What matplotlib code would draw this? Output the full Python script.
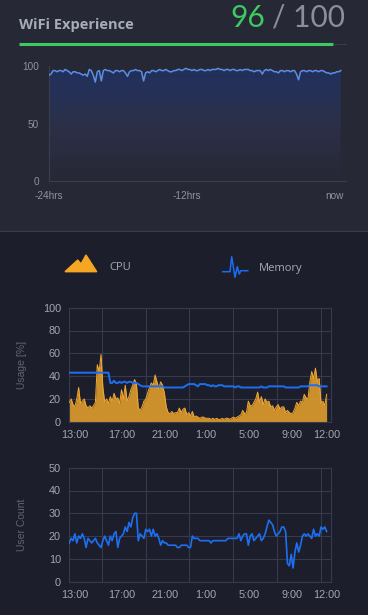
import matplotlib.pyplot as plt
import numpy as np
from matplotlib.colors import LinearSegmentedColormap
from matplotlib.lines import Line2D
from matplotlib.patches import Polygon, Rectangle

W, H = 368, 615

wifi_score = 96
wifi_max = 100
wifi_labels = ["-24hrs", "-12hrs", "now"]
# wifi experience over the last 24 hours, one point every ~10 minutes
wifi = [92, 93, 96, 96, 95, 96, 96, 95, 97, 96, 95, 93, 95, 95, 94, 94, 93, 92,
        93, 91, 97, 96, 92, 86, 95, 96, 87, 96, 97, 96, 96, 95, 94, 96, 96, 95,
        96, 96, 94, 91, 95, 96, 96, 97, 96, 96, 95, 87, 94, 95, 94, 96, 96, 95,
        96, 97, 96, 96, 97, 96, 95, 95, 96, 96, 97, 97, 96, 97, 98, 97, 97, 96,
        97, 96, 96, 97, 97, 96, 96, 97, 96, 97, 97, 97, 98, 97, 97, 96, 97, 97,
        96, 97, 97, 96, 96, 97, 96, 97, 97, 97, 96, 96, 95, 96, 96, 96, 93, 96,
        97, 96, 97, 96, 95, 95, 94, 96, 96, 95, 96, 96, 95, 96, 96, 93, 88, 95,
        96, 96, 95, 96, 96, 95, 96, 96, 95, 96, 96, 95, 94, 94, 93, 94, 94, 95,
        95, 96]

time_labels = ["13:00", "17:00", "21:00", "1:00", "5:00", "9:00", "12:00"]
# samples every 10 minutes from 13:00 to 12:00
cpu = [17, 20, 15, 13, 20, 30, 16, 18, 20, 14, 12, 14, 12, 14, 17, 50, 44, 59,
       30, 17, 20, 16, 22, 18, 25, 20, 21, 16, 28, 20, 32, 18, 22, 28, 32, 37,
       33, 12, 10, 13, 18, 20, 25, 30, 34, 32, 41, 35, 29, 35, 32, 25, 13, 8,
       7, 9, 7, 8, 8, 12, 8, 11, 12, 6, 8, 5, 9, 4, 5, 4, 3, 4, 4, 3, 3, 3, 2,
       3, 2, 3, 2, 2, 3, 2, 3, 3, 2, 3, 4, 3, 4, 5, 6, 10, 7, 8, 18, 14, 14, 17,
       20, 26, 17, 22, 15, 20, 17, 18, 13, 14, 10, 13, 15, 11, 13, 13, 8, 10, 8,
       7, 8, 12, 17, 14, 18, 17, 24, 21, 20, 35, 44, 38, 47, 35, 38, 16, 18, 14,
       24]
memory = [43, 43, 43, 43, 43, 43, 43, 43, 43, 43, 43, 43, 43, 43, 43, 43, 43,
          43, 43, 43, 43, 43, 34, 34, 36, 34, 34, 35, 34, 35, 35, 34, 35, 35,
          34, 34, 34, 33, 32, 31, 31, 31, 31, 31, 31, 31, 31, 31, 31, 31, 31,
          30, 30, 30, 30, 30, 30, 30, 30, 30, 30, 30, 31, 32, 33, 33, 33, 33,
          32, 31, 33, 33, 33, 33, 32, 32, 31, 32, 31, 31, 32, 32, 32, 31, 31,
          31, 31, 31, 31, 30, 31, 31, 30, 30, 30, 30, 30, 30, 30, 30, 30, 30,
          30, 31, 30, 30, 30, 31, 31, 31, 31, 31, 31, 31, 31, 31, 30, 30, 30,
          30, 30, 30, 30, 30, 31, 31, 31, 31, 31, 32, 32, 32, 32, 32, 31, 31,
          31, 31, 31]
users = [17, 19, 18, 21, 17, 20, 19, 21, 19, 15, 19, 18, 17, 18, 19, 17, 16,
         15, 18, 20, 18, 16, 20, 18, 21, 22, 15, 19, 20, 21, 24, 22, 26, 24,
         28, 30, 30, 18, 21, 20, 19, 23, 22, 23, 20, 23, 20, 21, 19, 16, 18,
         17, 17, 16, 16, 16, 16, 16, 15, 15, 16, 16, 16, 16, 15, 15, 20, 19,
         19, 19, 18, 18, 18, 18, 18, 18, 17, 18, 18, 18, 18, 18, 18, 18, 18,
         19, 19, 19, 19, 19, 19, 21, 18, 20, 21, 21, 16, 20, 21, 18, 19, 20,
         21, 18, 19, 21, 24, 27, 26, 25, 22, 20, 21, 22, 24, 24, 22, 8, 7, 12,
         6, 13, 17, 13, 16, 20, 21, 20, 21, 20, 19, 23, 20, 21, 20, 24, 23, 24,
         22]

label_hours = [0.51, 4.71, 8.55, 12.2, 16.07, 19.9, 23.0]
grid_hours = [2.92, 6.85, 10.7, 14.6, 18.55, 22.5]

CHART_FONT = ["Liberation Sans", "DejaVu Sans"]
GRID = "#363a4c"


def box(l, t, r, b):
    return [l / W, 1 - b / H, (r - l) / W, (b - t) / H]


def fxy(x, y):
    return (x / W, 1 - y / H)


fig = plt.figure(figsize=(W / 100, H / 100), dpi=100, facecolor="#1d1e2c")

# top card background + separator
fig.patches.append(Rectangle(fxy(0, 230), 1, 230 / H, transform=fig.transFigure,
                             color="#262836", zorder=-10))
fig.lines.append(Line2D([0, 1], [1 - 230.5 / H] * 2, transform=fig.transFigure,
                        color="#3a3c4c", lw=0.8, zorder=-5))

fig.text(*fxy(19, 29), "WiFi Experience", fontsize=10.5, weight="bold",
         color="#a6acb9", va="baseline", family=["Open Sans", "DejaVu Sans"])
fig.text(*fxy(265, 26.7), str(wifi_score), fontsize=21.5,
         color="#3dcb5f", ha="right", va="baseline", family=["Lato", "DejaVu Sans"])
fig.text(*fxy(345, 26.7), "/ %d" % wifi_max, fontsize=21.5,
         color="#8a8f9c", ha="right", va="baseline", family=["Lato", "DejaVu Sans"])

# score bar
frac = wifi_score / wifi_max
x0, x1 = 19, 346
xs = x0 + (x1 - x0) * frac
fig.lines.append(Line2D([x0 / W, xs / W], [1 - 43.5 / H] * 2, transform=fig.transFigure,
                        color="#3dcb5f", lw=2.2, solid_capstyle="butt"))
fig.lines.append(Line2D([xs / W, x1 / W], [1 - 43.5 / H] * 2, transform=fig.transFigure,
                        color="#3a3d4c", lw=0.7))

# wifi chart
ax0 = fig.add_axes(box(49, 66, 346, 181))
ax0.set_facecolor("none")
t = np.linspace(-24, 0, len(wifi))
ax0.set_xlim(-24, -24 + 24 * 297 / 291.8)
ax0.set_ylim(0, 100)
grad = LinearSegmentedColormap.from_list(
    "g", ["#262836", "#2a2c3f", "#2c3048", "#263157", "#21305b"])
img = ax0.imshow(np.linspace(0, 1, 256).reshape(-1, 1), cmap=grad, origin="lower",
                 extent=[t[0], t[-1], 0, 100], aspect="auto", zorder=1)
poly = Polygon(np.column_stack([np.r_[t, t[-1], t[0]], np.r_[wifi, 0, 0]]),
               closed=True, facecolor="none", edgecolor="none")
ax0.add_patch(poly)
img.set_clip_path(poly)
ax0.set_xlim(-24, -24 + 24 * 297 / 291.8)
ax0.set_ylim(0, 100)
ax0.plot(t, wifi, color="#5b8ee6", lw=1.1, zorder=3)
for s in ["top", "right"]:
    ax0.spines[s].set_visible(False)
for s in ["left", "bottom"]:
    ax0.spines[s].set_color("#3a3d4f")
    ax0.spines[s].set_linewidth(0.8)
ax0.set_yticks([0, 50, 100])
ax0.set_xticks([-24, -12.7, -0.55])
ax0.set_xticklabels(wifi_labels)
ax0.tick_params(length=0, labelsize=7.2, colors="#8e93a0", pad=7)
for lab in ax0.get_xticklabels() + ax0.get_yticklabels():
    lab.set_family(CHART_FONT)

# legend icons
cpu_icon = [(65, 271.7), (77.7, 260), (81, 264), (86, 255), (96.7, 271.7)]
fig.patches.append(Polygon([fxy(*p) for p in cpu_icon], closed=True,
                           transform=fig.transFigure, color="#f5a623"))
mem_icon = [(222.7, 271.7), (230, 271.7), (231.7, 256.7), (235, 277.3),
            (237.3, 266.7), (239.3, 274), (240.7, 270.7), (247.7, 270.7)]
mx, my = zip(*[fxy(*p) for p in mem_icon])
fig.lines.append(Line2D(mx, my, transform=fig.transFigure, color="#1a6cf5", lw=1.1))
fig.text(*fxy(109, 268), "CPU", fontsize=8, color="#a4aabb", va="center",
         family=["Open Sans", "DejaVu Sans"])
fig.text(*fxy(259, 268), "Memory", fontsize=8, color="#a4aabb", va="center",
         family=["Open Sans", "DejaVu Sans"])

hours = np.arange(len(cpu)) / 6


def style_time_axis(ax, ymax, ystep, ylabel):
    ax.set_facecolor("none")
    ax.set_xlim(0, 23.39)
    ax.set_ylim(0, ymax)
    ax.set_yticks(np.arange(0, ymax + 1, ystep))
    ax.set_xticks(label_hours)
    ax.set_xticklabels(time_labels)
    ax.set_xticks(grid_hours, minor=True)
    ax.grid(True, axis="y", color=GRID, lw=0.8)
    ax.grid(True, axis="x", which="minor", color=GRID, lw=0.8)
    ax.set_axisbelow(True)
    for s in ax.spines.values():
        s.set_color(GRID)
        s.set_linewidth(0.8)
    ax.tick_params(which="both", length=0, labelsize=7.8, colors="#a2a6b3", pad=6)
    for lab in ax.get_xticklabels() + ax.get_yticklabels():
        lab.set_family(CHART_FONT)
    ax.set_ylabel(ylabel, fontsize=7.5, color="#5f6475", family=CHART_FONT)
    ax.yaxis.set_label_coords((27 - 69.3) / 261.7, 0.5)


ax1 = fig.add_axes(box(69.3, 307.7, 331, 421.7))
style_time_axis(ax1, 100, 20, "Usage [%]")
ax1.fill_between(hours, cpu, color="#d6972c", lw=0, alpha=0.95, zorder=2)
ax1.plot(hours, cpu, color="#f2a830", lw=0.7, zorder=3)
ax1.plot(hours, memory, color="#1d6ff2", lw=1.4, zorder=4)

ax2 = fig.add_axes(box(69.3, 467.7, 331, 581.7))
style_time_axis(ax2, 50, 10, "User Count")
ax2.plot(hours, users, color="#1d6ff2", lw=1.2, zorder=3)

fig.savefig("out.png", dpi=100, facecolor=fig.get_facecolor())
